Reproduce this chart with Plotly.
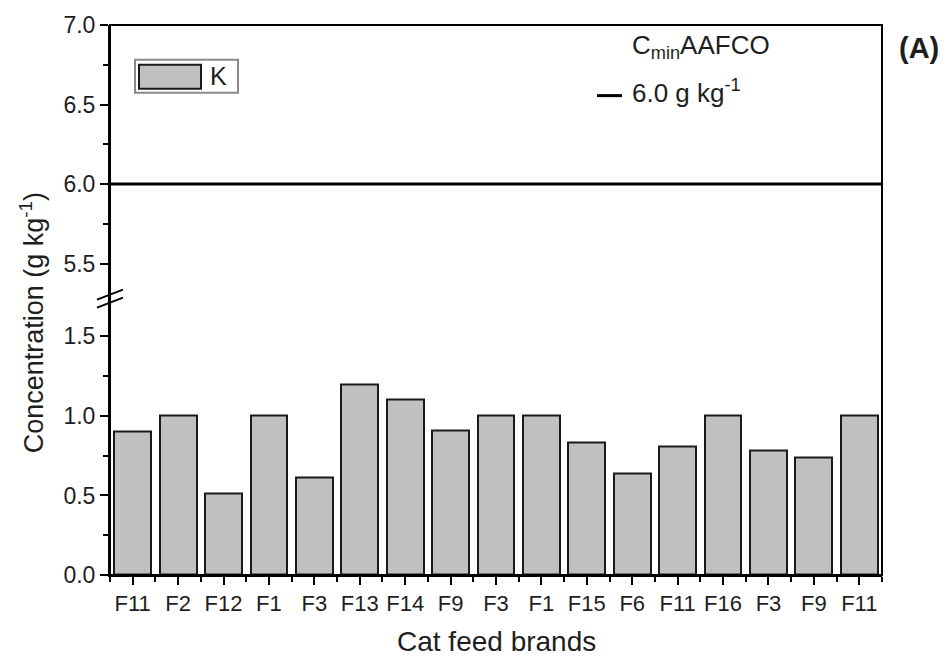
import plotly.graph_objects as go

# ---- data ----
brands = ["F11", "F2", "F12", "F1", "F3", "F13", "F14", "F9", "F3",
          "F1", "F15", "F6", "F11", "F16", "F3", "F9", "F11"]
k_values = [0.90, 1.00, 0.51, 1.00, 0.61, 1.20, 1.10, 0.91, 1.00,
            1.00, 0.83, 0.64, 0.81, 1.00, 0.78, 0.74, 1.00]
aafco_min = 6.0
series_name = "K"

# axis segments (broken y axis)
lower_range = [0.0, 1.7375]
upper_range = [5.28, 7.0001]

W, H = 950, 664
ML, MR, MT, MB = 110, 68, 22, 89
PW, PH = W - ML - MR, H - MT - MB


def px(x):
    return (x - ML) / PW


def py(y):
    return (H - MB - y) / PH


split = (lower_range[1] - lower_range[0]) / (
    (lower_range[1] - lower_range[0]) + (upper_range[1] - upper_range[0]))

FONT = "Liberation Sans, Arial, sans-serif"
TXT = "#1e1e1e"
positions = list(range(len(brands)))

fig = go.Figure()
for ax in ("y", "y2"):
    fig.add_trace(go.Bar(
        x=positions, y=k_values, yaxis=ax, width=0.81,
        marker=dict(color="#c0c0c0", line=dict(color="#1a1a1a", width=2)),
        name=series_name, showlegend=False, cliponaxis=True))

axis_common = dict(showline=True, linecolor="black", linewidth=2,
                   ticks="outside", ticklen=8, tickwidth=2, tickcolor="black",
                   showgrid=False, zeroline=False,
                   tickfont=dict(family=FONT, size=23, color=TXT),
                   tickformat=".1f")

fig.update_layout(
    width=W, height=H,
    margin=dict(l=ML, r=MR, t=MT, b=MB),
    plot_bgcolor="white", paper_bgcolor="white",
    bargap=0,
    xaxis=dict(range=[-0.5, len(brands) - 0.5], tickmode="array",
               tickvals=positions, ticktext=brands,
               showline=True, linecolor="black", linewidth=2,
               ticks="outside", ticklen=8, tickwidth=2, tickcolor="black",
               minor=dict(tickmode="linear", tick0=0.5, dtick=1, ticklen=5,
                          tickwidth=2, tickcolor="black", ticks="outside"),
               showgrid=False, zeroline=False, anchor="y",
               tickfont=dict(family=FONT, size=22, color=TXT)),
    yaxis=dict(domain=[0, split], range=lower_range, tick0=0, dtick=0.5,
               minor=dict(tick0=0, dtick=0.25, ticklen=5, tickwidth=2,
                          tickcolor="black", ticks="outside"),
               anchor="x", **axis_common),
    yaxis2=dict(domain=[split, 1], range=upper_range, tick0=0, dtick=0.5,
                minor=dict(tick0=0, dtick=0.25, ticklen=5, tickwidth=2,
                           tickcolor="black", ticks="outside"),
                anchor="x", **axis_common),
)

shapes = [
    # frame
    dict(type="rect", xref="paper", yref="paper", x0=0, x1=1, y0=0, y1=1,
         line=dict(color="black", width=2), layer="above"),
    # AAFCO minimum line
    dict(type="line", xref="x domain", yref="y2", x0=0, x1=1,
         y0=aafco_min, y1=aafco_min, line=dict(color="black", width=3)),
    # break marks
    dict(type="line", xref="paper", yref="paper", xsizemode="pixel",
         ysizemode="pixel", xanchor=0, yanchor=split,
         x0=-13, x1=13, y0=-1, y1=9, line=dict(color="black", width=2)),
    dict(type="line", xref="paper", yref="paper", xsizemode="pixel",
         ysizemode="pixel", xanchor=0, yanchor=split,
         x0=-13, x1=13, y0=-9, y1=1, line=dict(color="black", width=2)),
    # legend box
    dict(type="rect", xref="paper", yref="paper", x0=px(135), x1=px(238),
         y0=py(90), y1=py(57), line=dict(color="#8a8a8a", width=2),
         fillcolor="white"),
    dict(type="rect", xref="paper", yref="paper", x0=px(139), x1=px(201),
         y0=py(86), y1=py(62), line=dict(color="#1a1a1a", width=2),
         fillcolor="#c0c0c0"),
    # AAFCO legend dash
    dict(type="line", xref="paper", yref="paper", x0=px(597), x1=px(622),
         y0=py(93), y1=py(93), line=dict(color="black", width=3)),
]
fig.update_layout(shapes=shapes)

annotations = [
    dict(text=series_name, x=px(208), y=py(73), xref="paper", yref="paper",
         xanchor="left", yanchor="middle", showarrow=False,
         font=dict(family=FONT, size=25, color=TXT)),
    dict(text="C<sub>min</sub>AAFCO", x=px(630), y=py(44), xref="paper",
         yref="paper", xanchor="left", yanchor="middle", showarrow=False,
         font=dict(family=FONT, size=26, color=TXT)),
    dict(text="6.0 g kg<sup>-1</sup>", x=px(630), y=py(89), xref="paper",
         yref="paper", xanchor="left", yanchor="middle", showarrow=False,
         font=dict(family=FONT, size=26, color=TXT)),
    dict(text="<b>(A)</b>", x=px(897), y=py(45), xref="paper", yref="paper",
         xanchor="left", yanchor="middle", showarrow=False,
         font=dict(family=FONT, size=29, color=TXT)),
    dict(text="Concentration (g kg<sup>-1</sup>)", x=px(32), y=py(322),
         xref="paper", yref="paper", xanchor="center", yanchor="middle",
         textangle=-90, showarrow=False,
         font=dict(family=FONT, size=27, color=TXT)),
    dict(text="Cat feed brands", x=0.5, y=py(642), xref="paper", yref="paper",
         xanchor="center", yanchor="middle", showarrow=False,
         font=dict(family=FONT, size=28, color=TXT)),
]
fig.update_layout(annotations=annotations)

fig.write_html("out.html")
